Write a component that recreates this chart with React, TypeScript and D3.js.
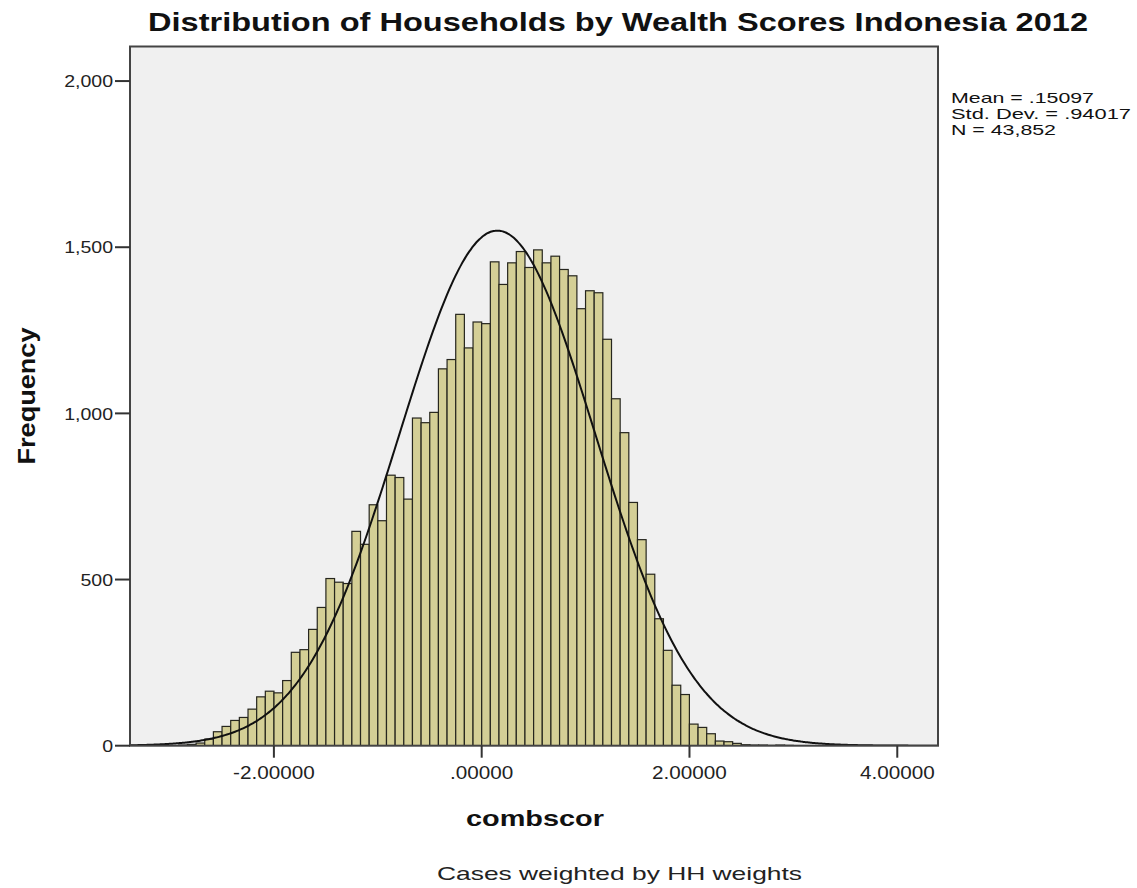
import React from "react";
import * as d3 from "d3";

// ---- Data ----
const binWidth = 0.0833;
const firstBinIndex = -35; // first bin starts at firstBinIndex * binWidth
const counts = [
  2, 4, 8, 20, 42, 58, 76, 85, 110, 147, 164, 159, 196,
  281, 289, 350, 416, 503, 492, 488, 645, 606, 725, 677, 814, 807, 742,
  986, 972, 1003, 1134, 1162, 1298, 1197, 1275, 1270,
  1456, 1388, 1453, 1487, 1439, 1492, 1453, 1473, 1433, 1414, 1315, 1369, 1363,
  1223, 1044, 942, 732, 620, 516, 382, 287, 182, 154, 65, 55, 36, 14, 12, 7,
  3, 2, 2, 1, 2, 1,
];
const mean = 0.15097;
const stdDev = 0.94017;
const nCases = 43852;
const xTicks = [-2, 0, 2, 4];
const yTicks = [0, 500, 1000, 1500, 2000];
const statsLines = ["Mean = .15097", "Std. Dev. = .94017", "N = 43,852"];
const statsWidths = [143, 180, 105];
const title = "Distribution of Households by Wealth Scores Indonesia 2012";
const xLabel = "combscor";
const yLabel = "Frequency";
const footnote = "Cases weighted by HH weights";

export default function App() {
  const W = 1137, H = 888;
  const left = 130, right = 938, top = 46.5, bottom = 745.7;
  const x = d3.scaleLinear().domain([-3.385, 4.392]).range([left, right]);
  const y = d3.scaleLinear().domain([0, 2104]).range([bottom, top]);

  const bins = counts.map((c, i) => {
    const x0 = (firstBinIndex + i) * binWidth;
    return { x0, x1: x0 + binWidth, c };
  });

  const pdf = (v: number) =>
    (nCases * binWidth) / (stdDev * Math.sqrt(2 * Math.PI)) *
    Math.exp(-0.5 * ((v - mean) / stdDev) ** 2);
  const curvePts = d3.range(0, 401).map((i) => {
    const v = -3.385 + (i / 400) * (4.392 + 3.385);
    return [v, pdf(v)] as [number, number];
  });
  const line = d3
    .line<[number, number]>()
    .x((d) => x(d[0]))
    .y((d) => y(d[1]))
    .curve(d3.curveBasis);

  const font = "'Liberation Sans', Arial, sans-serif";
  const fmtY = d3.format(",");
  const fmtX = (v: number) => {
    if (v === 0) return ".00000";
    return d3.format(".5f")(v).replace("\u2212", "-");
  };
  const sx = 1.15;

  return (
    <svg width={W} height={H} style={{ position: "absolute", left: 0, top: 0, background: "#fff" }} fontFamily={font}>
      <rect x={left} y={top} width={right - left} height={bottom - top} fill="#f0f0f0" />
      <defs>
        <clipPath id="plotclip">
          <rect x={left} y={top} width={right - left} height={bottom - top} />
        </clipPath>
      </defs>
      <g clipPath="url(#plotclip)">
        {bins.map((b, i) => (
          <rect
            key={i}
            x={x(b.x0)}
            y={y(b.c)}
            width={x(b.x1) - x(b.x0)}
            height={bottom - y(b.c)}
            fill="#d4cf96"
            stroke="#26261e"
            strokeWidth={1.2}
          />
        ))}
        <path d={line(curvePts) || ""} fill="none" stroke="#111" strokeWidth={2} />
      </g>
      <rect x={left} y={top} width={right - left} height={bottom - top} fill="none" stroke="#444" strokeWidth={2} />
      {/* Y axis */}
      {yTicks.map((t) => (
        <g key={t}>
          <line x1={left - 15} x2={left} y1={y(t)} y2={y(t)} stroke="#333" strokeWidth={2} />
          <g transform={`translate(${left - 17}, ${y(t)}) scale(${sx}, 1)`}>
            <text x={0} y={0} dy="0.36em" textAnchor="end" fontSize={17} fill="#222">
              {fmtY(t)}
            </text>
          </g>
        </g>
      ))}
      {/* X axis */}
      {xTicks.map((t) => (
        <g key={t}>
          <line x1={x(t)} x2={x(t)} y1={bottom} y2={bottom + 12} stroke="#333" strokeWidth={2} />
          <g transform={`translate(${x(t)}, ${bottom + 33}) scale(${sx}, 1)`}>
            <text x={0} y={0} textAnchor="middle" fontSize={18} fill="#222">
              {fmtX(t)}
            </text>
          </g>
        </g>
      ))}
      <text x={618} y={31} textAnchor="middle" fontSize={26} fontWeight="bold" fill="#111"
        textLength={940} lengthAdjust="spacingAndGlyphs">
        {title}
      </text>
      <text
        transform={`translate(35, 396) rotate(-90)`}
        textAnchor="middle"
        fontSize={23}
        fontWeight="bold"
        fill="#111"
        textLength={137}
        lengthAdjust="spacingAndGlyphs"
      >
        {yLabel}
      </text>
      <text x={535} y={826} textAnchor="middle" fontSize={22} fontWeight="bold" fill="#111"
        textLength={138} lengthAdjust="spacingAndGlyphs">
        {xLabel}
      </text>
      <text x={619.5} y={880} textAnchor="middle" fontSize={19} fill="#222"
        textLength={365} lengthAdjust="spacingAndGlyphs">
        {footnote}
      </text>
      {statsLines.map((s, i) => (
        <text key={i} x={951} y={103 + i * 16} fontSize={15} fill="#111"
          textLength={statsWidths[i]} lengthAdjust="spacingAndGlyphs">
          {s}
        </text>
      ))}
    </svg>
  );
}
